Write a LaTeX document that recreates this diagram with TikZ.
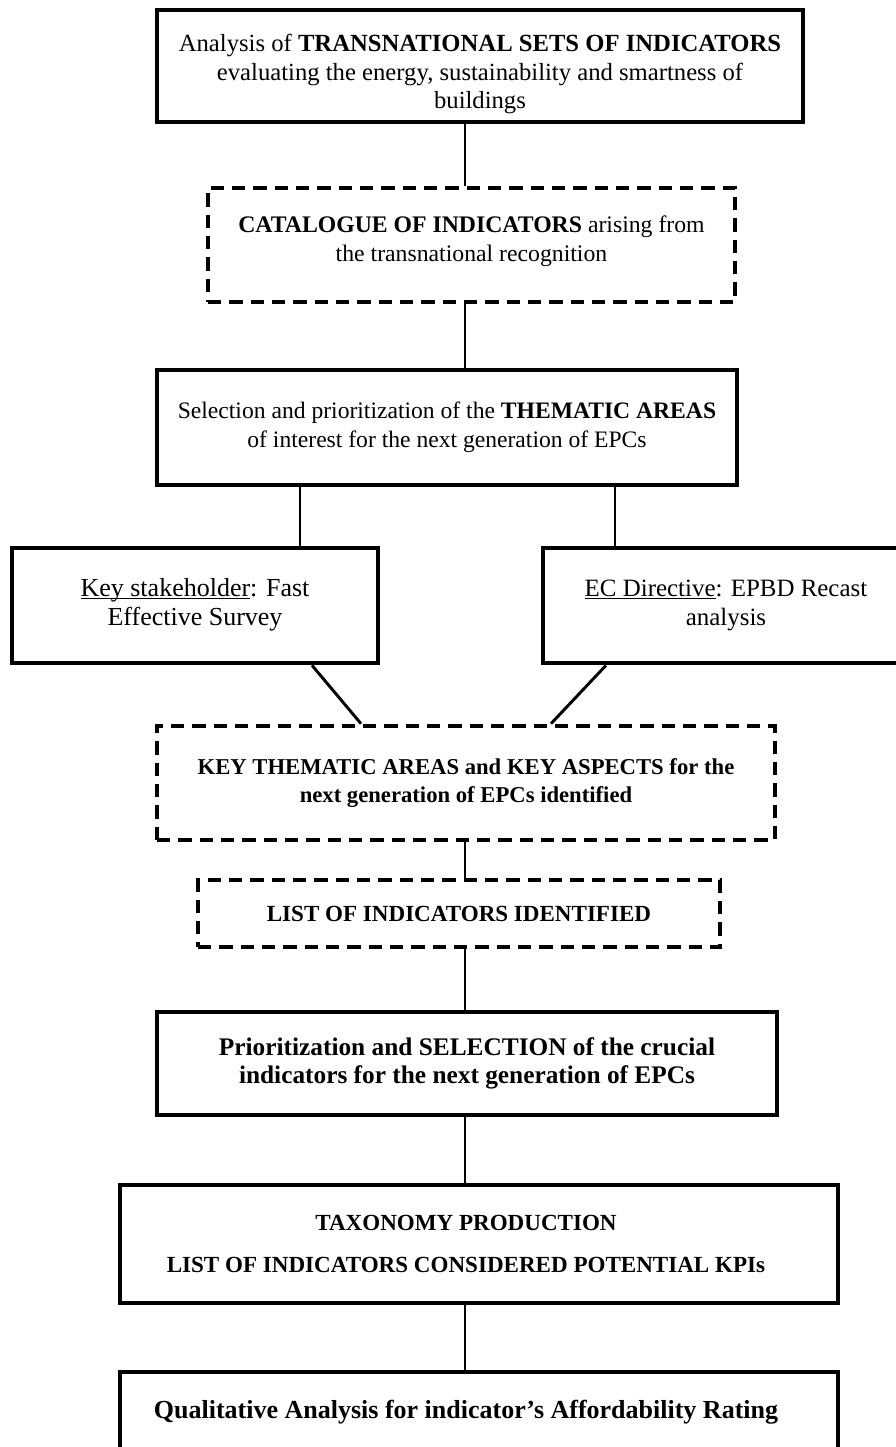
\documentclass[tikz,border=0pt]{standalone}
\usepackage{fontspec}
\setmainfont{Liberation Serif}
\usepackage{tikz}
\usetikzlibrary{positioning}
\newcommand{\keyline}[1]{\underline{\smash{#1}}}

\begin{document}
\begin{tikzpicture}[x=0.75pt, y=-0.75pt]
			\tikzstyle{Step}	= [rectangle, draw, line width=3.5pt, fill=white, align=center, inner sep=0pt]
			\tikzstyle{Result}	= [Step, dash pattern=on 10pt off 6pt]
			\tikzstyle{Link}	= [line width=2.2pt]
			
			\useasboundingbox (0,0) rectangle (896,1447);
			
			\foreach \n/\x/\y/\w/\h/\s/\t in {
				b1/480/66/646/112/18.5/{\rule{0pt}{25pt}Analysis of \textbf{TRANSNATIONAL SETS OF INDICATORS}\\evaluating the energy, sustainability and smartness of\\buildings},
				b3/447/427.5/580/115/17.7/{Selection and prioritization of the \textbf{THEMATIC AREAS}\\of interest for the next generation of EPCs},
				b4/195/605.5/366/115/19.5/{\keyline{Key stakeholder}: Fast\\Effective Survey},
				b5/726/605.5/366/115/18.7/{\keyline{EC Directive}: EPBD Recast\\analysis},
				b8/467/1063.5/620/103/19/{\textbf{Prioritization and SELECTION of the crucial}\\\textbf{indicators for the next generation of EPCs}},
				b9/479/1244/718/118/17.3/{\textbf{TAXONOMY PRODUCTION}\hspace*{19.5pt}\\[10pt]\textbf{LIST OF INDICATORS CONSIDERED POTENTIAL KPIs}\hspace*{19.5pt}},
				b10/479/1412/718/80/19.5/{\textbf{Qualitative Analysis for indicator's Affordability Rating}\hspace*{19.5pt}}}
				\node (\n) at (\x, \y) [Step, minimum width=\w*0.75pt, minimum height=\h*0.75pt, font=\fontsize{\s}{21.5}\selectfont] {\t};
			\foreach \n/\x/\y/\w/\h/\s/\t in {
				b2/471.5/245/527/114/17.8/{\textbf{CATALOGUE OF INDICATORS} arising from\\the transnational recognition\rule[-10pt]{0pt}{10pt}},
				b6/466/783/618/114/17/{\textbf{KEY THEMATIC AREAS and KEY ASPECTS for the}\\\textbf{next generation of EPCs identified}},
				b7/459/913.5/522/67/17.3/{\textbf{LIST OF INDICATORS IDENTIFIED}}}
				\node (\n) at (\x, \y) [Result, minimum width=\w*0.75pt, minimum height=\h*0.75pt, font=\fontsize{\s}{21.5}\selectfont] {\t};
			
			% columns of the connectors
			\coordinate (mid) at (465, 0);
			\coordinate (lc) at (300, 0);
			\coordinate (rc) at (615, 0);
			\coordinate (lo) at (312, 0);
			\coordinate (li) at (361, 0);
			\coordinate (ro) at (606, 0);
			\coordinate (ri) at (551, 0);
			
			\foreach \a/\b in {b1/b2, b2/b3, b6/b7, b7/b8, b8/b9, b9/b10}
				\draw [Link] (\a.south -| mid) -- (\b.north -| mid);
			\draw [Link] (b3.south -| lc) -- (b4.north -| lc);
			\draw [Link] (b3.south -| rc) -- (b5.north -| rc);
			\draw [Link] (b4.south -| lo) -- (b6.north -| li);
			\draw [Link] (b5.south -| ro) -- (b6.north -| ri);
		\end{tikzpicture}
\end{document}
